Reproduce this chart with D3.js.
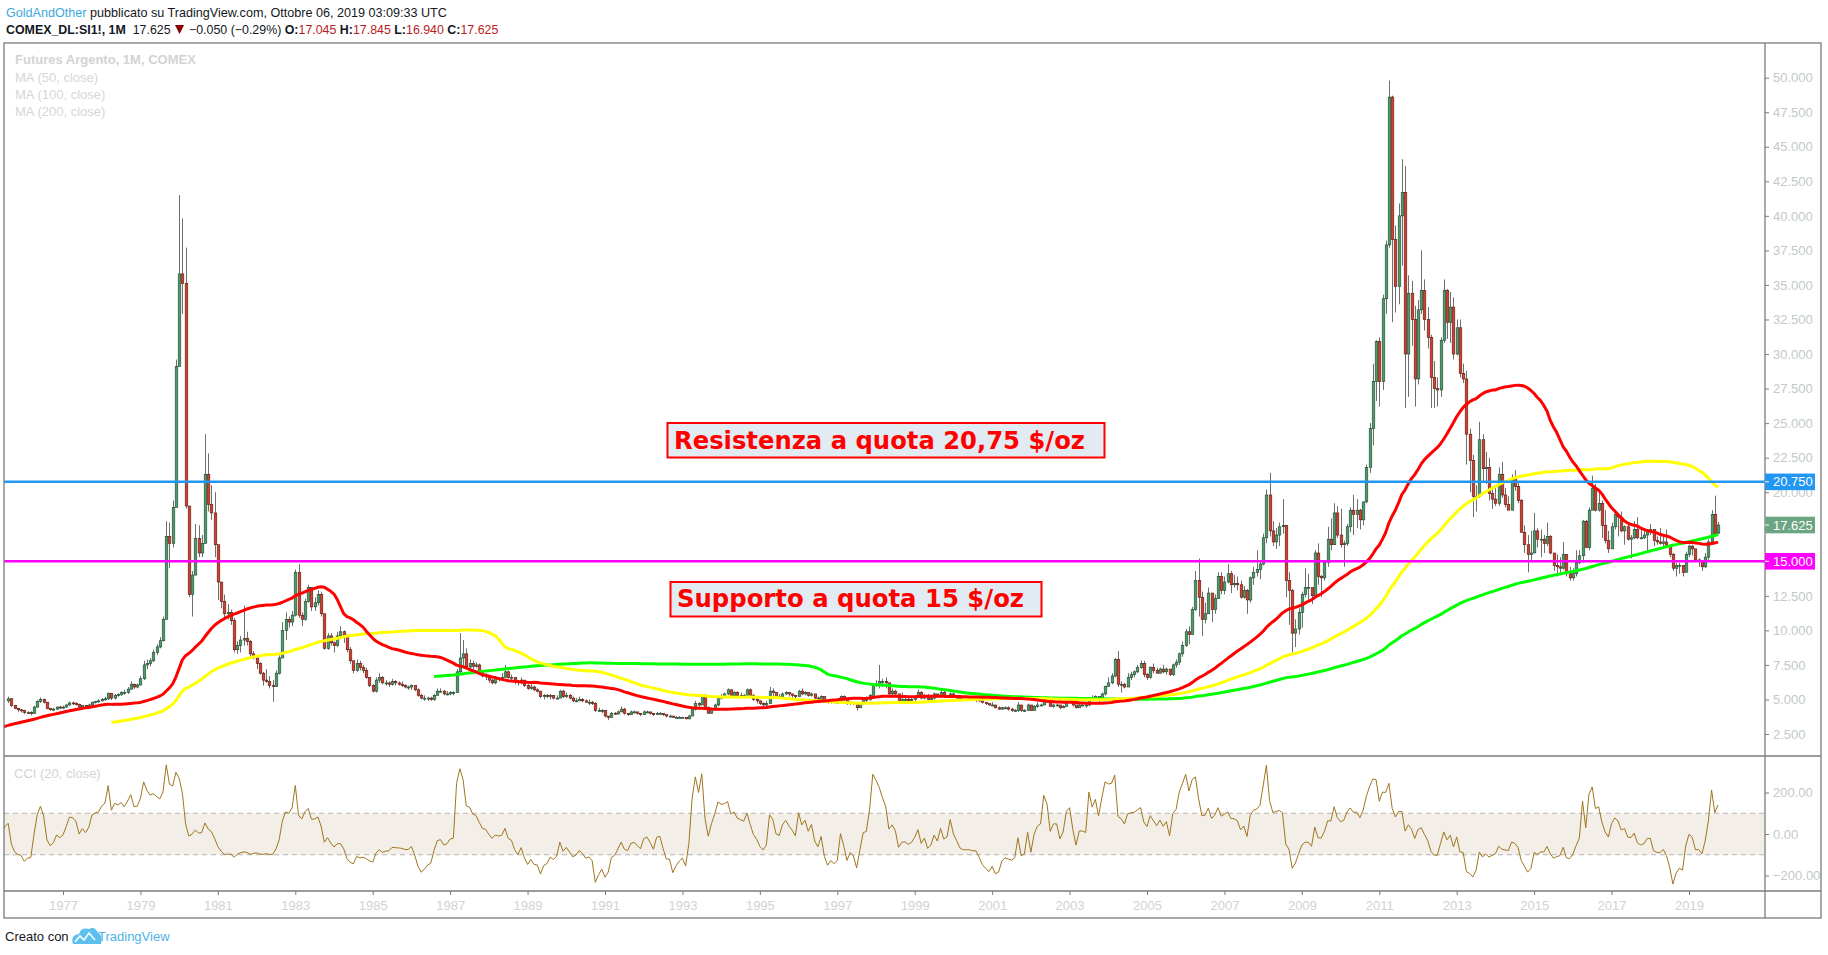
<!DOCTYPE html>
<html><head><meta charset="utf-8">
<script src="https://cdn.jsdelivr.net/npm/d3@7"></script>
<style>body{margin:0;background:#fff;} svg{display:block;} text{white-space:pre;}</style>
</head><body><svg id="c" width="1828" height="955"></svg>
<script>
// ---------------- DATA (monthly, COMEX silver continuous) ----------------
// closes from Jan 1970
const closes70s = [
 1.90,1.87,1.84,1.87,1.80,1.73,1.70,1.78,1.76,1.72,1.70,1.64,
 1.64,1.60,1.48,1.58,1.58,1.53,1.65,1.52,1.44,1.38,1.36,1.39,
 1.47,1.57,1.60,1.62,1.64,1.62,1.70,1.90,1.84,1.81,1.93,2.05,
 2.12,2.42,2.29,2.21,2.52,2.64,3.02,2.71,2.55,2.80,2.90,3.25,
 4.00,5.90,5.00,5.50,5.30,4.70,4.70,4.90,4.70,5.10,4.90,4.45,
 4.05,4.40,4.30,4.40,4.55,4.60,4.90,5.05,4.55,4.35,4.25,4.20,
 4.05,4.05,4.00,4.45,4.85,5.00,4.80,4.35,4.25,4.30,4.45,4.40,
 4.45,4.60,4.75,4.70,4.65,4.45,4.55,4.50,4.60,4.80,4.85,4.90,
 5.00,5.05,5.45,5.10,5.30,5.35,5.50,5.50,5.75,6.10,5.90,6.05,
 6.50,7.50,7.60,7.80,8.40,8.80,9.25,10.80,16.80,16.30,18.90,29.10];
const closes80s = [
 35.8,35.1,19.0,12.6,14.0,16.65,15.6,16.3,21.3,19.1,18.5,16.2,
 13.5,12.1,11.2,11.3,10.7,8.6,8.9,9.3,9.4,9.2,8.3,8.0,
 7.6,6.9,6.4,6.3,6.0,5.95,6.9,8.0,10.0,10.8,10.6,11.1,
 14.2,11.1,10.8,12.1,13.1,11.7,12.0,12.6,11.2,8.7,9.6,9.1,
 8.9,9.6,9.9,9.6,8.6,7.8,7.1,7.6,7.3,7.1,6.6,6.0,
 5.6,6.4,6.6,6.2,6.2,6.1,6.3,6.2,6.1,6.0,5.9,5.9,
 6.0,5.7,5.3,5.1,5.1,5.1,5.0,5.3,5.6,5.6,5.4,5.4,
 5.5,5.5,7.0,8.0,8.3,7.35,7.6,7.4,7.5,7.1,6.7,6.7,
 6.4,6.2,6.5,6.5,6.6,7.0,6.6,6.6,6.3,6.2,6.4,6.0,
 5.8,5.9,5.7,5.6,5.2,5.3,5.2,5.3,5.1,5.1,5.6,5.2];
const closes90s = [
 5.3,5.1,4.9,4.9,5.0,4.9,4.8,4.8,4.7,4.2,4.2,4.2,
 3.8,3.7,4.0,3.95,4.1,4.3,4.0,3.9,4.1,4.1,4.0,3.9,
 4.1,4.1,4.0,3.9,4.0,4.0,3.9,3.8,3.8,3.7,3.7,3.7,
 3.7,3.6,3.8,4.3,4.7,4.6,5.3,4.4,4.0,4.3,4.6,5.1,
 5.2,5.4,5.7,5.3,5.5,5.3,5.3,5.3,5.7,5.3,5.0,4.9,
 4.7,4.6,4.7,5.6,5.5,5.2,5.2,5.4,5.5,5.4,5.3,5.2,
 5.6,5.4,5.5,5.3,5.4,5.1,5.0,5.2,4.9,4.8,4.9,4.8,
 4.8,5.2,5.0,4.7,4.8,4.7,4.4,4.7,5.0,5.0,5.3,6.0,
 6.1,6.3,6.3,6.2,5.4,5.6,5.4,4.8,5.0,5.0,4.9,5.0,
 5.2,5.5,5.1,5.3,5.0,5.1,5.4,5.2,5.5,5.2,5.2,5.4];
const closes00s = [
 5.2,5.1,5.0,5.0,5.0,5.0,5.0,5.0,4.9,4.8,4.7,4.6,
 4.6,4.4,4.3,4.4,4.4,4.3,4.2,4.2,4.6,4.2,4.2,4.6,
 4.2,4.5,4.6,4.6,5.0,4.9,4.5,4.6,4.6,4.4,4.5,4.8,
 4.9,4.6,4.4,4.6,4.6,4.6,5.1,5.0,5.2,5.0,5.4,5.95,
 6.2,6.7,7.9,6.1,6.1,5.9,6.6,6.8,7.0,7.3,7.6,6.8,
 6.6,7.3,7.1,6.9,7.2,7.0,7.2,6.8,7.5,7.7,8.3,8.9,
 9.9,9.7,11.5,13.6,12.4,10.8,11.2,12.7,11.5,12.3,13.9,12.9,
 13.5,14.1,13.3,13.4,13.3,12.4,12.9,12.2,13.8,14.2,14.4,14.8,
 16.7,19.8,17.2,16.4,16.9,17.5,17.6,13.6,12.9,9.8,10.1,11.3,
 12.6,13.1,13.1,12.5,15.6,13.9,13.8,14.9,16.6,16.2,18.5,16.9];
const closes10s = [
 16.2,16.3,17.5,18.7,18.4,18.7,18.0,19.3,21.8,24.6,28.0,30.9,
 28.0,34.0,37.9,48.6,38.3,34.9,40.0,41.7,30.0,34.4,32.5,28.2,
 33.2,34.6,32.5,31.2,28.3,27.5,27.4,31.0,34.6,32.3,33.4,30.0,
 31.9,28.6,28.2,24.2,22.3,19.7,19.7,23.8,21.7,21.8,19.9,19.5,
 19.2,21.3,19.8,19.1,18.7,21.0,20.4,19.4,17.1,16.2,15.5,15.6,
 17.2,16.6,16.6,16.3,16.8,15.6,14.7,14.6,14.5,15.5,14.1,13.8,
 14.1,14.9,15.4,17.9,16.0,18.7,20.3,18.7,19.2,17.6,16.5,15.9,
 17.5,18.4,18.2,17.2,17.5,16.6,16.7,17.3,16.7,16.7,16.9,17.2,
 17.3,16.5,16.4,16.3,16.4,16.1,15.5,14.5,14.7,14.7,14.2,15.5,
 16.1,15.9,15.1,15.0,14.6,15.3,16.4,18.4,17.0,17.625];
// highs / lows from Aug 1975 (first visible candle)
const highs70s = [
 5.20,5.10,4.60,4.40,4.30,
 4.25,4.15,4.15,4.55,4.95,5.15,5.05,4.80,4.40,4.40,4.50,4.55,
 4.55,4.65,4.85,4.85,4.80,4.70,4.60,4.60,4.70,4.85,4.90,5.00,
 5.10,5.20,5.50,5.45,5.40,5.45,5.60,5.70,5.90,6.30,6.15,6.15,
 6.70,7.80,7.90,8.00,8.60,9.00,9.50,11.00,17.90,17.80,19.40,29.60];
const lows70s = [
 4.75,4.45,4.30,4.10,4.05,
 3.95,3.95,3.85,3.95,4.40,4.75,4.70,4.30,4.20,4.15,4.25,4.30,
 4.30,4.40,4.55,4.60,4.55,4.35,4.40,4.40,4.45,4.55,4.70,4.75,
 4.85,4.90,4.95,4.95,5.00,5.20,5.25,5.35,5.40,5.70,5.75,5.80,
 6.00,6.40,7.20,7.40,7.70,8.20,8.70,9.20,10.80,14.50,16.00,19.00];
const highs80s = [
 41.5,39.8,37.7,19.0,14.3,17.7,17.6,16.9,24.2,22.8,20.5,20.0,
 15.8,13.3,12.6,11.9,11.5,10.9,9.2,9.6,11.8,9.9,9.3,8.5,
 8.1,7.7,7.0,7.2,6.7,6.4,7.1,8.3,10.6,11.3,11.0,11.4,
 14.4,14.8,11.3,12.3,13.3,12.9,12.4,12.9,12.8,11.0,9.8,9.8,
 9.2,9.9,10.3,10.0,9.7,8.8,7.8,7.9,7.8,7.5,7.3,6.6,
 6.1,6.6,6.9,6.7,6.4,6.3,6.5,6.4,6.3,6.3,6.1,6.0,
 6.1,6.0,5.8,5.4,5.3,5.2,5.2,5.4,5.8,5.8,5.7,5.6,
 5.6,5.6,7.2,9.8,9.3,8.7,7.9,7.8,7.7,7.6,7.0,6.9,
 6.8,6.5,6.7,6.6,6.9,7.5,7.1,6.8,6.6,6.4,6.6,6.4,
 6.1,6.1,6.0,5.8,5.6,5.4,5.4,5.4,5.3,5.3,5.7,5.7];
const lows80s = [
 29.5,32.9,18.8,12.4,11.0,14.2,15.3,15.3,16.5,18.6,18.0,15.3,
 12.2,11.6,10.9,10.8,10.4,8.4,8.3,8.4,8.9,8.9,8.1,7.9,
 7.2,6.8,6.0,6.2,5.8,4.84,5.9,6.8,8.0,9.3,10.2,10.3,
 11.0,10.9,10.3,10.7,12.0,11.4,11.4,11.8,11.0,8.6,8.6,8.9,
 8.4,8.8,9.4,9.1,8.4,7.6,6.9,7.0,7.1,6.9,6.5,5.9,
 5.5,5.5,6.2,6.1,6.0,5.9,6.0,6.0,6.0,5.9,5.8,5.7,
 5.7,5.6,5.2,5.0,4.9,4.9,4.9,4.9,5.3,5.5,5.3,5.3,
 5.3,5.3,5.5,6.9,7.3,7.2,7.2,7.2,7.3,6.9,6.6,6.4,
 6.2,6.1,6.1,6.3,6.4,6.6,6.5,6.4,6.1,6.0,6.1,5.9,
 5.7,5.7,5.6,5.5,5.1,5.0,5.1,5.0,5.0,5.0,5.1,5.1];
const highs90s = [
 5.5,5.4,5.2,5.1,5.2,5.1,5.0,5.0,4.9,4.8,4.4,4.3,
 4.1,3.8,4.1,4.1,4.2,4.5,4.4,4.0,4.2,4.2,4.1,4.0,
 4.2,4.2,4.1,4.0,4.1,4.1,4.0,3.9,3.9,3.8,3.8,3.8,
 3.75,3.7,3.9,4.4,4.9,4.8,5.4,5.4,4.5,4.4,4.7,5.2,
 5.4,5.5,5.8,5.7,5.6,5.6,5.5,5.4,5.8,5.8,5.4,5.1,
 4.9,4.8,4.9,5.9,5.8,5.5,5.4,5.5,5.6,5.5,5.4,5.3,
 5.7,5.8,5.6,5.5,5.5,5.4,5.2,5.3,5.2,5.0,5.0,4.9,
 4.9,5.3,5.3,5.0,4.9,4.8,4.7,4.8,5.1,5.2,5.4,6.1,
 6.4,7.5,6.5,6.6,6.2,5.8,5.7,5.4,5.5,5.2,5.2,5.1,
 5.3,5.7,5.6,5.4,5.4,5.2,5.5,5.4,5.7,5.8,5.3,5.5];
const lows90s = [
 5.1,5.0,4.8,4.8,4.9,4.8,4.8,4.6,4.6,4.1,4.1,4.0,
 3.7,3.5,3.7,3.9,3.9,4.1,3.9,3.8,3.9,4.0,3.9,3.8,
 3.9,4.0,3.9,3.8,3.9,3.9,3.8,3.7,3.7,3.7,3.65,3.65,
 3.6,3.55,3.55,3.8,4.2,4.4,4.6,4.3,4.0,4.0,4.2,4.5,
 5.0,5.1,5.3,5.2,5.2,5.2,5.2,5.1,5.3,5.2,4.9,4.7,
 4.6,4.5,4.4,4.7,5.2,5.1,5.1,5.1,5.3,5.2,5.1,5.1,
 5.2,5.3,5.3,5.2,5.2,5.0,5.0,5.0,4.85,4.7,4.7,4.7,
 4.7,4.8,4.9,4.6,4.6,4.6,4.2,4.4,4.6,4.8,4.9,5.3,
 5.9,5.8,5.9,5.8,5.1,5.2,5.3,4.7,4.8,4.9,4.8,4.8,
 4.9,5.1,5.0,5.0,4.9,4.9,5.0,5.1,5.1,5.1,5.1,5.1];
const highs00s = [
 5.5,5.3,5.2,5.1,5.1,5.1,5.1,5.1,5.1,4.9,4.8,4.7,
 4.8,4.6,4.5,4.45,4.5,4.5,4.4,4.3,4.8,4.6,4.3,4.7,
 4.6,4.6,4.8,4.7,5.1,5.1,5.0,4.7,4.7,4.6,4.6,4.8,
 5.0,4.9,4.6,4.7,4.8,4.6,5.1,5.3,5.3,5.2,5.5,6.0,
 6.6,6.9,8.0,8.5,6.3,6.2,6.9,7.0,7.1,7.5,7.8,7.8,
 6.9,7.4,7.6,7.3,7.3,7.5,7.3,7.2,7.6,7.9,8.4,9.2,
 10.1,10.3,11.7,14.3,15.2,12.8,12.0,13.1,12.6,12.6,14.2,14.2,
 13.9,14.8,14.3,14.0,13.9,13.6,13.2,13.0,13.9,14.6,15.8,15.1,
 17.0,20.2,21.4,17.9,17.4,17.8,19.5,17.6,14.2,13.0,10.8,11.6,
 12.8,14.5,14.1,13.1,15.8,16.3,14.0,15.1,17.5,18.1,19.2,19.0];
const lows00s = [
 5.1,5.0,4.9,4.9,4.9,4.9,4.9,4.8,4.8,4.7,4.6,4.55,
 4.5,4.35,4.25,4.25,4.3,4.2,4.1,4.1,4.1,4.1,4.1,4.2,
 4.2,4.2,4.4,4.5,4.6,4.8,4.5,4.4,4.5,4.3,4.4,4.5,
 4.7,4.5,4.35,4.4,4.5,4.4,4.5,4.9,4.9,4.8,4.9,5.3,
 5.9,6.1,6.6,5.9,5.5,5.8,5.9,6.4,6.6,6.9,7.2,6.6,
 6.4,6.5,6.9,6.9,6.9,6.9,6.8,6.7,6.7,7.3,7.5,8.1,
 8.8,9.0,9.8,11.4,11.0,9.6,10.5,11.2,10.6,11.2,12.3,12.6,
 12.6,13.4,12.7,13.1,12.9,12.3,12.3,11.2,12.0,13.3,13.9,13.7,
 14.7,16.3,16.8,16.1,15.9,16.1,17.0,12.4,10.4,8.4,8.8,9.7,
 10.2,12.4,12.1,11.9,12.3,13.3,12.4,13.6,14.6,15.8,16.2,16.7];
const highs10s = [
 18.8,16.5,17.7,18.9,19.8,19.5,18.8,19.3,22.0,25.0,29.3,31.0,
 31.2,34.3,38.2,49.8,48.7,39.3,40.9,44.1,43.6,35.7,35.3,33.5,
 33.9,37.5,35.4,33.4,31.4,29.5,28.3,31.2,35.4,34.7,34.5,34.1,
 32.5,32.5,29.3,28.8,24.6,22.7,20.5,25.1,24.2,22.9,22.5,20.4,
 20.4,21.8,22.2,20.3,19.7,21.3,21.6,20.7,19.5,17.6,16.9,17.2,
 18.5,17.4,17.3,16.9,17.8,16.9,15.6,15.5,15.3,16.4,15.5,14.6,
 14.5,15.8,15.8,18.0,18.0,18.9,21.2,20.6,20.1,19.4,18.7,17.2,
 17.8,18.5,18.5,18.6,17.6,17.8,16.9,17.9,18.2,17.4,17.4,17.3,
 17.7,17.3,16.8,17.4,16.8,17.3,16.1,15.6,14.9,14.9,14.7,15.7,
 16.2,16.2,15.5,15.2,14.9,15.6,16.6,18.7,19.75,17.845];
const lows10s = [
 16.0,14.6,16.1,17.1,16.9,17.4,17.3,17.6,19.2,21.4,23.4,26.6,
 26.2,27.4,32.9,37.7,32.3,33.0,33.6,36.4,26.1,26.9,30.6,26.2,
 27.8,32.9,31.7,30.4,26.1,26.1,26.2,26.9,30.8,31.1,30.8,29.6,
 29.9,28.3,27.9,22.0,20.0,18.2,18.6,19.6,20.8,20.6,19.4,18.8,
 19.0,19.0,19.6,18.9,18.7,18.7,20.1,19.2,17.1,15.6,14.2,15.1,
 15.6,16.0,15.3,15.6,16.1,15.5,14.3,13.9,14.2,14.4,13.9,13.6,
 13.6,13.9,14.8,14.9,16.0,15.8,18.8,18.6,18.6,16.7,16.3,15.6,
 15.9,17.3,16.8,17.1,16.2,16.5,15.2,16.6,16.6,16.6,16.6,15.6,
 16.9,16.1,16.2,16.2,16.0,16.0,15.3,14.3,13.9,14.1,13.9,14.2,
 15.3,15.4,15.0,14.6,14.3,14.5,15.1,16.2,16.8,16.94];
const lastOpen = 17.045;
const firstYear = 1970;
const candleStart = 67;           // Aug 1975, first month with a visible candle
const maPeriods = [200, 100, 50];
const maColors = ["#00ff00", "#ffff00", "#ff0000"];
const cciPeriod = 20;
const priceTicks = [2.5,5,7.5,10,12.5,15,17.5,20,22.5,25,27.5,30,32.5,35,37.5,40,42.5,45,47.5,50].filter(v=>v!==17.5 && v!==15);
const cciTicks = [200, 0, -200];
const yearTicks = d3.range(1977, 2020, 2);
const resistance = 20.75, support = 15.0;
const resText = "Resistenza a quota 20,75 $/oz";
const supText = "Supporto a quota 15 $/oz";

// ---------------- BUILD ----------------
const closes = [...closes70s, ...closes80s, ...closes90s, ...closes00s, ...closes10s];
const highs = [...highs70s, ...highs80s, ...highs90s, ...highs00s, ...highs10s];
const lows = [...lows70s, ...lows80s, ...lows90s, ...lows00s, ...lows10s];
const tOf = i => firstYear + i / 12;

const NARROW = "'Liberation Sans Narrow','Liberation Sans',Arial,sans-serif";
const svg = d3.select("#c");
const L = 4, R = 1821, AX = 1765, TOP = 43, BRK = 756, XAX = 891, BOT = 918;

const x = d3.scaleLinear().domain([1977, 2019]).range([63, 1689]);
const yP = d3.scaleLinear().domain([2.5, 50]).range([734, 77.7]);
const yC = d3.scaleLinear().domain([-200, 200]).range([875.5, 792.5]);

const defs = svg.append("defs");
defs.append("clipPath").attr("id","cpMain").append("rect").attr("x",L).attr("y",TOP).attr("width",AX-L).attr("height",BRK-TOP);
defs.append("clipPath").attr("id","cpCci").append("rect").attr("x",L).attr("y",BRK).attr("width",AX-L).attr("height",XAX-BRK);

// header
function seq(g, x0, y, parts, size) {
  let cx = x0;
  parts.forEach(p => {
    if (p.tri) {
      g.append("path").attr("d", `M${cx+1},${y-9}h9l-4.5,9z`).attr("fill", "#8b0000");
      cx += 11.5; return;
    }
    const t = g.append("text").attr("x", cx).attr("y", y).text(p.t)
      .attr("fill", p.c || "#131722").attr("font-weight", p.b ? "bold" : "normal")
      .attr("font-size", size).attr("font-family", NARROW);
    cx += t.node().getComputedTextLength();
  });
}
const hdr = svg.append("g");
seq(hdr, 6, 17, [{t:"GoldAndOther", c:"#3ba9e0"}, {t:" pubblicato su TradingView.com, Ottobre 06, 2019 03:09:33 UTC"}], 12.6);
seq(hdr, 6, 34, [{t:"COMEX_DL:SI1!, 1M", b:true}, {t:"  17.625 "}, {tri:true}, {t:" \u22120.050 (\u22120.29%) "},
  {t:"O:", b:true}, {t:"17.045", c:"#b71c1c"}, {t:" H:", b:true}, {t:"17.845", c:"#b71c1c"},
  {t:" L:", b:true}, {t:"16.940", c:"#b71c1c"}, {t:" C:", b:true}, {t:"17.625", c:"#b71c1c"}], 12.4);

// CCI band
svg.append("rect").attr("x", L).attr("y", yC(100)).attr("width", AX-L).attr("height", yC(-100)-yC(100)).attr("fill", "#f3efe8");
[100, -100].forEach(v => svg.append("line").attr("x1", L).attr("x2", AX).attr("y1", yC(v)).attr("y2", yC(v))
  .attr("stroke", "#b5b5b5").attr("stroke-dasharray", "5,4").attr("stroke-width", 1));

// watermark labels
const wm = svg.append("g").attr("font-family", NARROW).attr("font-size", 13);
wm.append("text").attr("x", 15).attr("y", 64).attr("fill", "#d3d3d3").attr("font-weight", "bold").text("Futures Argento, 1M, COMEX");
["MA (50, close)", "MA (100, close)", "MA (200, close)"].forEach((s, k) =>
  wm.append("text").attr("x", 15).attr("y", 81.5 + k * 17).attr("fill", "#d6d6d6").text(s));
wm.append("text").attr("x", 14).attr("y", 777.5).attr("fill", "#d3d3d3").text("CCI (20, close)");

// candles
const gc = svg.append("g").attr("clip-path", "url(#cpMain)");
const candles = d3.range(candleStart, closes.length).map(i => {
  const c = closes[i];
  const o = i === closes.length - 1 ? lastOpen : closes[i - 1];
  const k = i - candleStart;
  return { t: tOf(i), o, c, h: Math.max(highs[k], o, c), l: Math.min(lows[k], o, c) };
});
gc.selectAll("line.w").data(candles).join("line").attr("class","w")
  .attr("x1", d => Math.round(x(d.t)) + 0.5).attr("x2", d => Math.round(x(d.t)) + 0.5)
  .attr("y1", d => yP(d.h)).attr("y2", d => yP(d.l)).attr("stroke", "#6f6f6f").attr("stroke-width", 1);
gc.selectAll("rect.b").data(candles).join("rect").attr("class","b")
  .attr("x", d => Math.round(x(d.t)) - 0.8).attr("width", 2.6)
  .attr("y", d => yP(Math.max(d.o, d.c)))
  .attr("height", d => Math.max(1, Math.abs(yP(d.o) - yP(d.c))))
  .attr("fill", d => d.c >= d.o ? "#4e9a6a" : "#d23f2f")
  .attr("stroke", d => d.c >= d.o ? "#1f4a30" : "#5a1a10").attr("stroke-width", 0.6);

// moving averages
maPeriods.forEach((n, k) => {
  const pts = [];
  for (let i = n - 1; i < closes.length; i++) pts.push([tOf(i), d3.mean(closes.slice(i - n + 1, i + 1))]);
  gc.append("path").datum(pts).attr("fill", "none").attr("stroke", maColors[k]).attr("stroke-width", 3)
    .attr("stroke-linejoin", "round").attr("d", d3.line().x(d => x(d[0])).y(d => yP(d[1])));
});

// horizontal levels
svg.append("line").attr("x1", L).attr("x2", AX).attr("y1", yP(resistance)).attr("y2", yP(resistance)).attr("stroke", "#2196f3").attr("stroke-width", 2.5);
svg.append("line").attr("x1", L).attr("x2", AX).attr("y1", yP(support)).attr("y2", yP(support)).attr("stroke", "#ff00ff").attr("stroke-width", 2.5);

// annotation boxes
function note(x0, y0, w, h, txt, tx, ty, tl) {
  svg.append("rect").attr("x", x0).attr("y", y0).attr("width", w).attr("height", h)
    .attr("fill", "#e2ebf2").attr("stroke", "#ff0000").attr("stroke-width", 2);
  svg.append("text").attr("x", tx).attr("y", ty).text(txt).attr("fill", "#ff0000")
    .attr("font-family", "'DejaVu Sans',Verdana,sans-serif").attr("font-weight", "bold").attr("font-size", 24)
    .attr("textLength", tl).attr("lengthAdjust", "spacingAndGlyphs");
}
note(667.5, 423, 437, 34.5, resText, 674, 448.5, 411);
note(670.5, 582, 371, 34.5, supText, 677, 607, 347);

// CCI
const cci = [];
for (let i = cciPeriod - 1; i < closes.length; i++) {
  const win = closes.slice(i - cciPeriod + 1, i + 1);
  const m = d3.mean(win);
  const md = d3.mean(win, v => Math.abs(v - m));
  cci.push([tOf(i), md === 0 ? 0 : (closes[i] - m) / (0.015 * md)]);
}
svg.append("g").attr("clip-path", "url(#cpCci)").append("path").datum(cci.filter(d => d[0] >= 1975.4))
  .attr("fill", "none").attr("stroke", "#a0761f").attr("stroke-width", 1)
  .attr("d", d3.line().x(d => x(d[0])).y(d => yC(d[1])));

// frame
const fr = svg.append("g").attr("stroke", "#7b7b7b").attr("stroke-width", 1.3);
fr.append("rect").attr("x", L).attr("y", TOP).attr("width", R-L).attr("height", BOT-TOP).attr("fill", "none");
fr.append("line").attr("x1", AX).attr("x2", AX).attr("y1", TOP).attr("y2", BOT);
fr.append("line").attr("x1", L).attr("x2", R).attr("y1", BRK).attr("y2", BRK);
fr.append("line").attr("x1", L).attr("x2", R).attr("y1", XAX).attr("y2", XAX);

// axes
function styleAxis(g, col) {
  g.select(".domain").remove();
  g.selectAll(".tick line").attr("stroke", "#7b7b7b");
  g.selectAll(".tick text").attr("fill", col).attr("font-family", NARROW).attr("font-size", 13);
}
svg.append("g").attr("transform", `translate(${AX},0)`)
  .call(d3.axisRight(yP).tickValues(priceTicks).tickFormat(d3.format(".3f")).tickSize(4).tickPadding(4))
  .call(g => styleAxis(g, "#c2cac4"));
svg.append("g").attr("transform", `translate(${AX},0)`)
  .call(d3.axisRight(yC).tickValues(cciTicks).tickFormat(d3.format(".2f")).tickSize(4).tickPadding(4))
  .call(g => styleAxis(g, "#c2cac4"));
svg.append("g").attr("transform", `translate(0,${XAX})`)
  .call(d3.axisBottom(x).tickValues(yearTicks).tickFormat(d3.format("d")).tickSize(4).tickPadding(6))
  .call(g => styleAxis(g, "#d2d2d2"));

// price labels on axis
function tag(v, bg, txt) {
  const yy = yP(v);
  svg.append("rect").attr("x", AX).attr("y", yy - 8.3).attr("width", 50).attr("height", 16.6).attr("fill", bg);
  svg.append("line").attr("x1", AX).attr("x2", AX + 4).attr("y1", yy).attr("y2", yy).attr("stroke", "#fff").attr("stroke-width", 1);
  svg.append("text").attr("x", AX + 8).attr("y", yy + 4.5).text(txt).attr("fill", "#fff")
    .attr("font-family", NARROW).attr("font-size", 13);
}
tag(resistance, "#2196f3", d3.format(".3f")(resistance));
tag(closes[closes.length - 1], "#6ba583", d3.format(".3f")(closes[closes.length - 1]));
tag(support, "#ff00ff", d3.format(".3f")(support));

// footer
const ft = svg.append("g");
ft.append("text").attr("x", 5).attr("y", 941).text("Creato con").attr("fill", "#131722").attr("font-family", NARROW).attr("font-size", 13);
ft.append("path").attr("d", "M73,944 q-3,-9 6,-10 q2,-7 10,-5 q6,-3 9,4 q5,1 3,11 z").attr("fill", "#5cc0ee");
ft.append("path").attr("d", "M75,942 l5,-6 l4,4 l5,-7 l6,7").attr("fill", "none").attr("stroke", "#fff").attr("stroke-width", 1.6);
ft.append("text").attr("x", 98).attr("y", 941).text("TradingView").attr("fill", "#4fb3e8").attr("font-family", NARROW).attr("font-size", 13);
</script>
</body></html>
